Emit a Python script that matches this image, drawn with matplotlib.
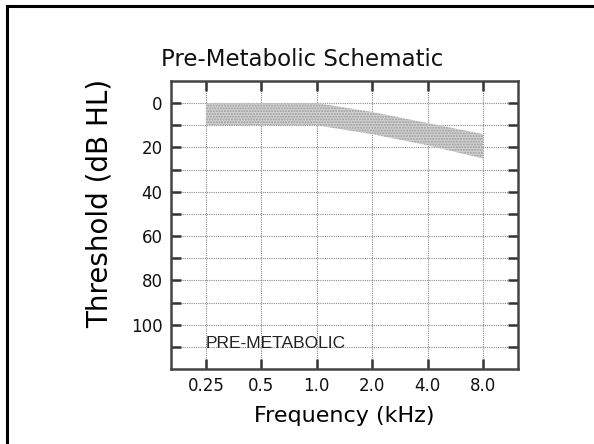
import matplotlib
matplotlib.use("Agg")
import matplotlib.pyplot as plt
from matplotlib.lines import Line2D
import numpy as np

freq_labels = ["0.25", "0.5", "1.0", "2.0", "4.0", "8.0"]
band_upper = [0, 0, 0, 4, 9, 14]     # dB HL (top edge of shaded region)
band_lower = [10, 10, 10, 14, 19, 25]  # dB HL (bottom edge)
y_major = [0, 20, 40, 60, 80, 100]
y_minor = [10, 30, 50, 70, 90, 110]

W, H = 594, 444
fig = plt.figure(figsize=(W / 100, H / 100), dpi=100)
fig.patch.set_facecolor("white")

# axes rectangle in pixels
left, right, top, bottom = 171, 518, 81, 369
ax = fig.add_axes([left / W, 1 - bottom / H, (right - left) / W, (bottom - top) / H])

x = np.arange(len(freq_labels))
ax.fill_between(x, band_upper, band_lower, facecolor="#d2d2d2", edgecolor="#9c9c9c",
                hatch="......", linewidth=0, zorder=1)

ax.set_xlim(-0.63, len(freq_labels) - 1 + 0.63)
ax.set_ylim(120, -10)
ax.set_xticks(x)
ax.set_xticklabels(freq_labels)
ax.set_yticks(y_major)
ax.set_yticks(y_minor, minor=True)

ax.grid(True, which="both", linestyle=(0, (1, 1)), color="#8a8a8a", linewidth=0.8, zorder=0)
ax.set_axisbelow(True)

ax.tick_params(axis="both", which="both", direction="in", length=7, width=1.8,
               color="#333333", top=True, right=True, pad=6)
ax.tick_params(axis="y", which="major", pad=6)
for s in ax.spines.values():
    s.set_linewidth(1.8)
    s.set_color("#444444")

for lab in ax.get_xticklabels() + ax.get_yticklabels():
    lab.set_family("DejaVu Sans")
    lab.set_fontsize(12)
    lab.set_color("#111111")

ax.text(0, 110.7, "PRE-METABOLIC", fontsize=12.5, family="Liberation Sans",
        ha="left", va="baseline", color="#222222", zorder=3)

ax.set_xlabel("Frequency (kHz)", fontsize=16, family="DejaVu Sans", labelpad=8)
ax.set_ylabel("Threshold (dB HL)", fontsize=20, family="DejaVu Sans", labelpad=10)
ax.yaxis.set_label_coords(-0.165, 0.575)

fig.text(302 / W, 1 - 60 / H, "Pre-Metabolic Schematic", fontsize=16.5,
         family="DejaVu Sans", ha="center", va="center", color="#111111")

# slide border (top and left)
fig.add_artist(Line2D([7 / W, 1.0], [1 - 6 / H, 1 - 6 / H], transform=fig.transFigure,
                      color="black", linewidth=2.2))
fig.add_artist(Line2D([7 / W, 7 / W], [0, 1 - 6 / H], transform=fig.transFigure,
                      color="black", linewidth=2.2))

fig.savefig("out.png", dpi=100)
